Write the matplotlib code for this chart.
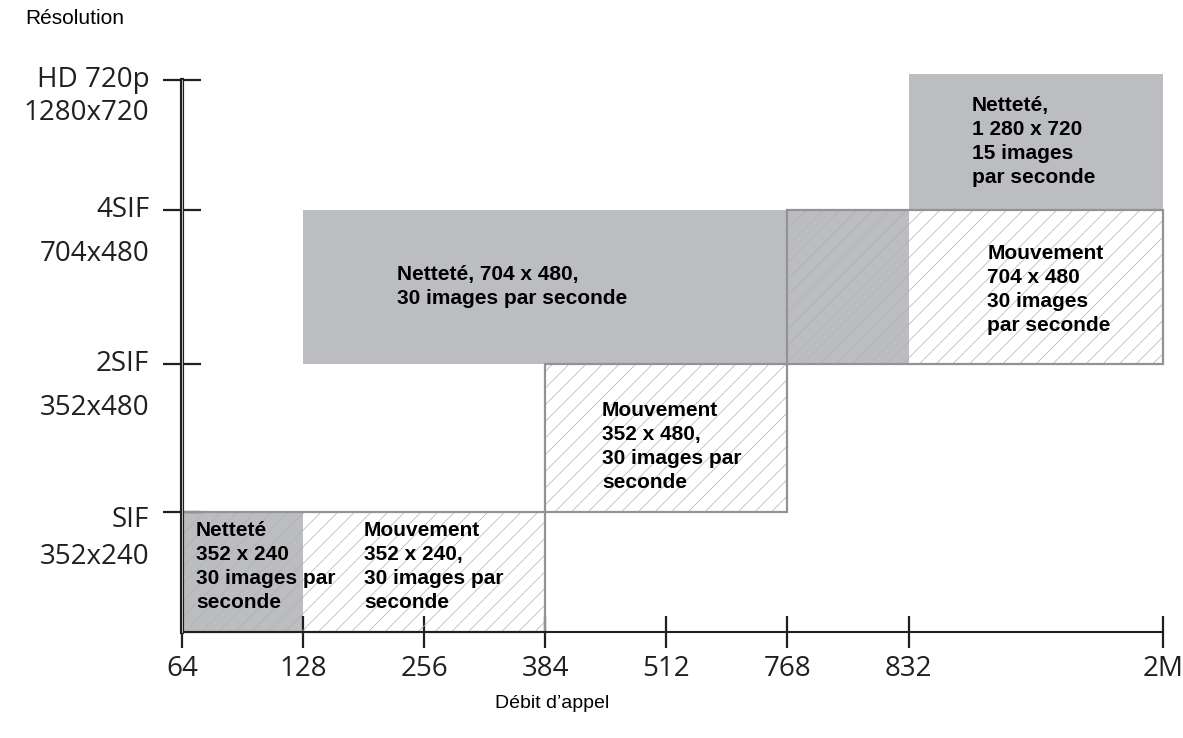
import matplotlib
matplotlib.use("Agg")
import matplotlib.pyplot as plt
from matplotlib.patches import Rectangle

# data
rates = ['64', '128', '256', '384', '512', '768', '832', '2M']
rate_pos = [0, 1, 2, 3, 4, 5, 6, 8.1]

res_names = ['SIF', '2SIF', '4SIF', 'HD 720p']
res_sizes = ['352x240', '352x480', '704x480', '1280x720']
res_level = [1.0, 2.233, 3.517, 4.6]
top_level = 4.65

# zones: (text, rate from, rate to, level from, level to)
sharp_text = ['Netteté\n352 x 240\n30 images par\nseconde',
              'Netteté, 704 x 480,\n30 images par seconde',
              'Netteté,\n1 280 x 720\n15 images\npar seconde']
sharp_x = [('64', '128'), ('128', '832'), ('832', '2M')]
sharp_y = [(0, res_level[0]), (res_level[1], res_level[2]), (res_level[2], top_level)]
sharp_txt_pos = [(0.116, 0.925), (1.775, 3.058), (6.52, 4.467)]

motion_text = ['Mouvement\n352 x 240,\n30 images par\nseconde',
               'Mouvement\n352 x 480,\n30 images par\nseconde',
               'Mouvement\n704 x 480\n30 images\npar seconde']
motion_x = [('64', '384'), ('384', '768'), ('768', '2M')]
motion_y = [(0, res_level[0]), (res_level[0], res_level[1]), (res_level[1], res_level[2])]
motion_txt_pos = [(1.503, 0.925), (3.468, 1.925), (6.65, 3.233)]

# label offsets from tick level (first line, second line), axis units
name_off = [-0.07, 0.0, 0.0, 0.0]
size_off = [-0.375, -0.367, -0.367, -0.275]

GRAY = '#bcbdc0'
EDGE = '#939395'
HATCH = '#b0b0b0'
DARK = '#231f20'

plt.rcParams['hatch.linewidth'] = 0.5

fig = plt.figure(figsize=(11.83, 7.38), dpi=100)
ax = fig.add_axes([0, 0, 1, 1])
ax.set_xlim(-182 / 121.1, (1183 - 182) / 121.1)
ax.set_ylim(-106 / 120, 632 / 120)

xp = dict(zip(rates, rate_pos))

# sharpness zones (gray fill)
for (a, b), (y0, y1) in zip(sharp_x, sharp_y):
    ax.add_patch(Rectangle((xp[a], y0), xp[b] - xp[a], y1 - y0,
                           facecolor=GRAY, edgecolor='none', zorder=1))

# motion zones (hatched, outlined)
for (a, b), (y0, y1) in zip(motion_x, motion_y):
    ax.add_patch(Rectangle((xp[a], y0), xp[b] - xp[a], y1 - y0,
                           facecolor='none', edgecolor=HATCH, hatch='//',
                           linewidth=0, zorder=2))
    ax.add_patch(Rectangle((xp[a], y0), xp[b] - xp[a], y1 - y0,
                           facecolor='none', edgecolor=EDGE, linewidth=1.6,
                           zorder=3))

for txt, (tx, ty) in zip(sharp_text + motion_text, sharp_txt_pos + motion_txt_pos):
    ax.text(tx, ty, txt, ha='left', va='top', fontsize=15, fontweight='bold',
            family='Liberation Sans', linespacing=1.33, color='black', zorder=5)

# axes
for s in ['top', 'right']:
    ax.spines[s].set_visible(False)
ax.spines['left'].set_position(('data', 0))
ax.spines['bottom'].set_position(('data', 0))
ax.spines['left'].set_bounds(0, res_level[-1])
ax.spines['bottom'].set_bounds(0, rate_pos[-1])
ax.spines['left'].set_linewidth(3)
ax.spines['bottom'].set_linewidth(1.5)
ax.spines['left'].set_color(DARK)
ax.spines['bottom'].set_color(DARK)
for s in ['left', 'bottom']:
    ax.spines[s].set_zorder(6)
# thin light stripe inside the double vertical axis line
ax.plot([0, 0], [0, res_level[-1]], color='#d8d8d8', lw=0.6, zorder=7)

ax.set_xticks(rate_pos, rates)
ax.set_yticks(res_level, [''] * len(res_level))
ax.tick_params(axis='x', direction='inout', length=22.5, width=1.6, color=DARK,
               pad=5, labelsize=20, labelcolor=DARK)
ax.tick_params(axis='y', direction='inout', length=27.4, width=1.6, color=DARK)
for lab in ax.get_xticklabels():
    lab.set_family('Open Sans')

for name, size, lvl, n_off, s_off in zip(res_names, res_sizes, res_level,
                                         name_off, size_off):
    ax.text(-0.27, lvl + n_off, name, ha='right', va='center',
            fontsize=20, family='Open Sans', color=DARK)
    ax.text(-0.27, lvl + s_off, size, ha='right', va='center',
            fontsize=20, family='Open Sans', color=DARK)

fig.text(25 / 1183, 1 - 18 / 738, 'Résolution', ha='left', va='center',
         fontsize=15, family='Liberation Sans', color='black')
fig.text(552 / 1183, 1 - 703 / 738, 'Débit d’appel', ha='center', va='center',
         fontsize=14, family='Liberation Sans', color='black')

fig.savefig('out.png', dpi=100)
